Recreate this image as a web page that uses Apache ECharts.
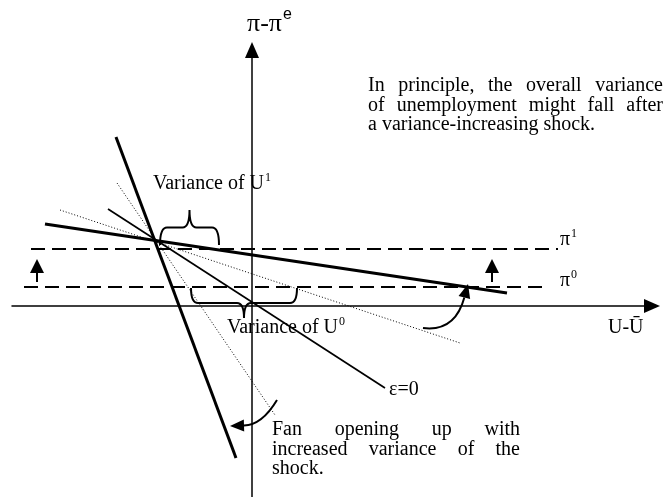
<!DOCTYPE html>
<html>
<head>
<meta charset="utf-8">
<script src="https://cdn.jsdelivr.net/npm/echarts@6/dist/echarts.min.js"></script>
<style>
html, body { margin: 0; padding: 0; background: #fff; }
#chart { width: 667px; height: 497px; }
</style>
</head>
<body>
<div id="chart"></div>
<script>
// diagram units: origin where the two axes cross, y pointing up
var xRange = [-240, 400];
var yRange = [-191, 256];

// Phillips-type lines, each [start, end]
var steepThick = [[-136, 169], [-16, -152]];
var flatThick = [[-207, 82], [255, 13]];
var epsZero = [[-144, 97], [133, -82]];
var steepDotted = [[-135, 123], [23, -109]];
var flatDotted = [[-192, 96], [208, -37]];
var pi1Line = [[-221, 57], [306, 57]];
var pi0Line = [[-228, 19], [293, 19]];

// upward shift arrows: x, from y, to y
var shiftArrows = [[-215, 24, 47], [240, 24, 47]];
// braces: x1, x2, y of the ends, y of the tip
var braces = [[-92, -33, 61, 96], [-61, 45, 18, -12]];
// curved pointers: start, control, end (arrow tip)
var pointers = [[171, -22, 203, -26, 216, 22], [25, -94, 10, -119, -22, -120]];

var note1 = ['In principle, the overall variance', 'of unemployment might fall after', 'a variance-increasing shock.'];
var note2 = ['Fan opening up with', 'increased variance of the', 'shock.'];

var serif = '"Liberation Serif", "Times New Roman", serif';
var sans = '"Liberation Sans", Arial, sans-serif';
var ctx = document.createElement('canvas').getContext('2d');

function textW(s, size, family) {
    ctx.font = size + 'px ' + (family || serif);
    return ctx.measureText(s).width;
}

function txt(s, x, base, size, family) {
    return {
        type: 'text', x: x, y: base - 0.34 * size, silent: true,
        style: { text: s, fontSize: size, fontFamily: family || serif, fill: '#000', align: 'left', verticalAlign: 'middle' }
    };
}

function withSup(main, sup, x, base, size, supSize, rise, family, supFamily) {
    var w = textW(main, size, family);
    return [txt(main, x, base, size, family), txt(sup, x + w + 1, base - rise, supSize, supFamily || family)];
}

// word-by-word layout so the lines come out justified like the original
function justified(lines, left, right, base, gap, size) {
    var out = [];
    lines.forEach(function (line, i) {
        var words = line.split(' ');
        var widths = words.map(function (w) { return textW(w, size); });
        var total = widths.reduce(function (a, b) { return a + b; }, 0);
        var space = i === lines.length - 1 ? textW(' ', size) : (right - left - total) / (words.length - 1);
        var x = left;
        words.forEach(function (w, j) {
            out.push(txt(w, x, base + i * gap, size));
            x += widths[j] + space;
        });
    });
    return out;
}

function lineSeries(pts, width, type) {
    return {
        type: 'line', data: pts, symbol: 'none', silent: true,
        lineStyle: { color: '#000', width: width, type: type || 'solid' }
    };
}

function head(tip, from, len, half) {
    var dx = tip[0] - from[0], dy = tip[1] - from[1];
    var d = Math.sqrt(dx * dx + dy * dy);
    var ux = dx / d, uy = dy / d;
    var bx = tip[0] - ux * len, by = tip[1] - uy * len;
    return [[tip[0], tip[1]], [bx - uy * half, by + ux * half], [bx + uy * half, by - ux * half]];
}

var texts = [].concat(
    withSup('π-π', 'e', 247, 33, 26, 16, 13, serif, sans),
    withSup('Variance of U', '1', 153, 191, 20, 12, 9),
    withSup('Variance of U', '0', 227, 335, 20, 12, 9),
    withSup('π', '1', 560, 247, 20, 12, 9),
    withSup('π', '0', 560, 288, 20, 12, 9),
    [txt('ε=0', 389, 397, 20), txt('U-Ū', 608, 335, 20)],
    justified(note1, 368, 663, 93, 19.5, 20),
    justified(note2, 272, 520, 437, 19.5, 20)
);

var chart = echarts.init(document.getElementById('chart'));

chart.setOption({
    animation: false,
    backgroundColor: '#fff',
    grid: { left: 12, right: 15, top: 50, bottom: 0 },
    xAxis: {
        type: 'value', min: xRange[0], max: xRange[1],
        axisLine: { show: true, onZero: true, symbol: ['none', 'triangle'], symbolSize: [14, 16], lineStyle: { color: '#000', width: 1.5 } },
        axisTick: { show: false }, axisLabel: { show: false }, splitLine: { show: false }
    },
    yAxis: {
        type: 'value', min: yRange[0], max: yRange[1],
        axisLine: { show: true, onZero: true, symbol: ['none', 'triangle'], symbolSize: [14, 16], lineStyle: { color: '#000', width: 1.5 } },
        axisTick: { show: false }, axisLabel: { show: false }, splitLine: { show: false }
    },
    series: [
        lineSeries(pi1Line, 2, [14, 7]),
        lineSeries(pi0Line, 2, [14, 7]),
        lineSeries(steepDotted, 1, [1, 2]),
        lineSeries(flatDotted, 1, [1, 2]),
        lineSeries(epsZero, 1.7),
        lineSeries(steepThick, 3),
        lineSeries(flatThick, 3),
        {
            type: 'custom', data: shiftArrows, silent: true,
            renderItem: function (params, api) {
                var a = api.coord([api.value(0), api.value(1)]);
                var b = api.coord([api.value(0), api.value(2)]);
                return {
                    type: 'group', children: [
                        { type: 'line', shape: { x1: a[0], y1: a[1], x2: b[0], y2: b[1] + 10 }, style: { stroke: '#000', lineWidth: 2 } },
                        { type: 'polygon', shape: { points: head(b, a, 14, 7) }, style: { fill: '#000' } }
                    ]
                };
            }
        },
        {
            type: 'custom', data: braces, silent: true,
            renderItem: function (params, api) {
                var p1 = api.coord([api.value(0), api.value(2)]);
                var p2 = api.coord([api.value(1), api.value(2)]);
                var tip = api.coord([(api.value(0) + api.value(1)) / 2, api.value(3)]);
                var ym = (p1[1] + tip[1]) / 2, r = 7;
                var d = 'M' + p1[0] + ' ' + p1[1] +
                    ' Q' + p1[0] + ' ' + ym + ' ' + (p1[0] + r) + ' ' + ym +
                    ' L' + (tip[0] - r) + ' ' + ym +
                    ' Q' + tip[0] + ' ' + ym + ' ' + tip[0] + ' ' + tip[1] +
                    ' Q' + tip[0] + ' ' + ym + ' ' + (tip[0] + r) + ' ' + ym +
                    ' L' + (p2[0] - r) + ' ' + ym +
                    ' Q' + p2[0] + ' ' + ym + ' ' + p2[0] + ' ' + p2[1];
                return { type: 'path', shape: { pathData: d }, style: { stroke: '#000', fill: null, lineWidth: 2 } };
            }
        },
        {
            type: 'custom', data: pointers, silent: true,
            renderItem: function (params, api) {
                var s = api.coord([api.value(0), api.value(1)]);
                var c = api.coord([api.value(2), api.value(3)]);
                var e = api.coord([api.value(4), api.value(5)]);
                var pts = head(e, c, 14, 6);
                var bx = (pts[1][0] + pts[2][0]) / 2, by = (pts[1][1] + pts[2][1]) / 2;
                return {
                    type: 'group', children: [
                        { type: 'bezierCurve', shape: { x1: s[0], y1: s[1], cpx1: c[0], cpy1: c[1], x2: bx, y2: by }, style: { stroke: '#000', fill: null, lineWidth: 2 } },
                        { type: 'polygon', shape: { points: pts }, style: { fill: '#000' } }
                    ]
                };
            }
        }
    ],
    graphic: texts
});
</script>
</body>
</html>
